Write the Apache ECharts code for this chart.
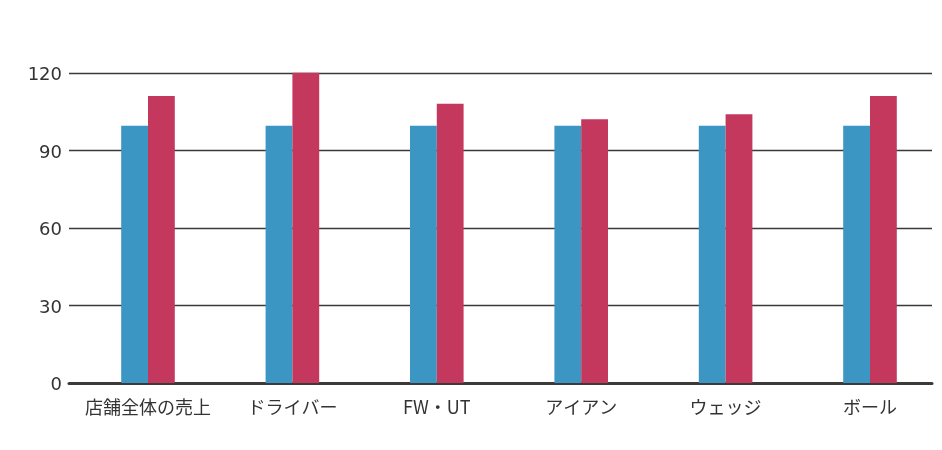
<!DOCTYPE html>
<html>
<head>
<meta charset="utf-8">
<script src="https://cdn.jsdelivr.net/npm/echarts@6/dist/echarts.min.js"></script>
<style>html,body{margin:0;padding:0;background:#fff}#c{width:942px;height:450px}</style>
</head>
<body>
<div id="c"></div>
<script>
const categories = ['店舗全体の売上', 'ドライバー', 'FW・UT', 'アイアン', 'ウェッジ', 'ボール'];
const seriesA = [99.5, 99.5, 99.5, 99.5, 99.5, 99.5];
const seriesB = [111, 120, 108, 102, 104, 111];
const yTicks = [0, 30, 60, 90, 120];

const chart = echarts.init(document.getElementById('c'));
chart.setOption({
  animation: false,
  grid: [
    { left: 69, right: 10, top: 72.8, bottom: 67 },
    { left: 148, right: 72, top: 72.8, bottom: 67 }
  ],
  xAxis: [
    { gridIndex: 0, type: 'category', data: categories, boundaryGap: true,
      axisLine: { show: true, lineStyle: { color: '#3d3939', width: 3 } },
      axisTick: { show: false }, axisLabel: { show: false }, splitLine: { show: false } },
    { gridIndex: 1, type: 'category', data: categories, boundaryGap: false,
      axisLine: { show: false }, axisTick: { show: false }, splitLine: { show: false },
      axisLabel: { show: true, margin: 15, color: '#333', fontSize: 18,
        fontFamily: '"Noto Sans CJK JP", sans-serif', interval: 0 } }
  ],
  yAxis: [
    { gridIndex: 0, type: 'value', min: 0, max: 120, interval: 30,
      axisLine: { show: false }, axisTick: { show: false },
      splitLine: { show: true, lineStyle: { color: '#3a3a3a', width: 1.3 } },
      axisLabel: { show: true, margin: 7, color: '#333', fontSize: 18,
        verticalAlign: 'top', lineHeight: 5,
        fontFamily: '"DejaVu Sans", sans-serif',
        formatter: v => yTicks.includes(v) ? String(v) : '' } },
    { gridIndex: 1, type: 'value', min: 0, max: 120, interval: 30, show: false }
  ],
  series: [
    { type: 'bar', xAxisIndex: 1, yAxisIndex: 1, data: seriesA, barWidth: 26.8, barGap: '0%',
      clip: false, itemStyle: { color: '#3b96c3' } },
    { type: 'bar', xAxisIndex: 1, yAxisIndex: 1, data: seriesB, barWidth: 26.8, barGap: '0%',
      clip: false, itemStyle: { color: '#c3385c' } }
  ]
});
</script>
</body>
</html>
